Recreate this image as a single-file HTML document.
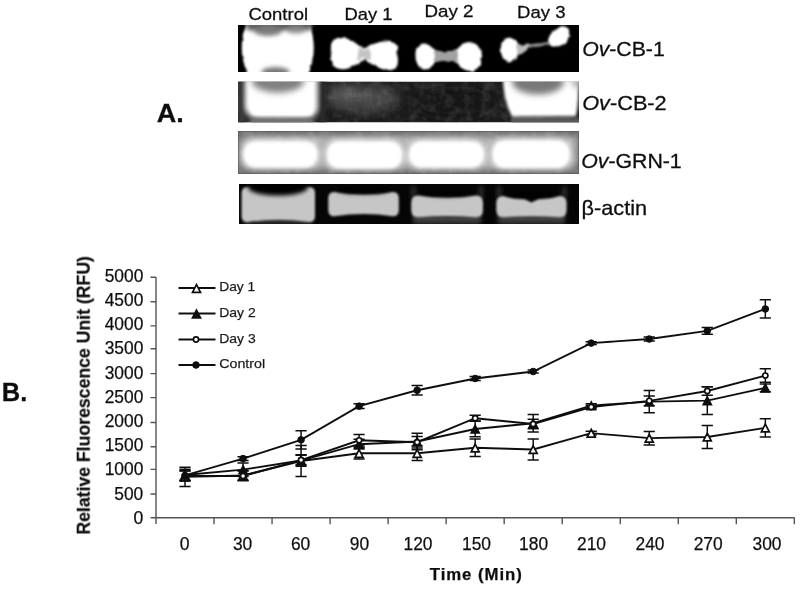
<!DOCTYPE html>
<html lang="en"><head><meta charset="utf-8"><title>Figure</title>
<style>
html,body{margin:0;padding:0;background:#fff;}
body{width:800px;height:591px;overflow:hidden;}
svg{display:block;}
text{font-family:"Liberation Sans",sans-serif;fill:#111;}
</style></head><body>
<svg width="800" height="591" viewBox="0 0 800 591">
<defs>
<filter id="b05" x="-20%" y="-20%" width="140%" height="140%"><feGaussianBlur stdDeviation="0.5"/></filter>
<filter id="b1" x="-20%" y="-20%" width="140%" height="140%"><feGaussianBlur stdDeviation="1"/></filter>
<filter id="b15" x="-20%" y="-20%" width="140%" height="140%"><feGaussianBlur stdDeviation="1.5"/></filter>
<filter id="b2" x="-30%" y="-30%" width="160%" height="160%"><feGaussianBlur stdDeviation="2"/></filter>
<filter id="b3" x="-30%" y="-30%" width="160%" height="160%"><feGaussianBlur stdDeviation="3"/></filter>
<filter id="b5" x="-40%" y="-40%" width="180%" height="180%"><feGaussianBlur stdDeviation="5"/></filter>
<filter id="rough" x="-10%" y="-10%" width="120%" height="120%"><feTurbulence type="fractalNoise" baseFrequency="0.16" numOctaves="2" seed="7" result="n"/><feDisplacementMap in="SourceGraphic" in2="n" scale="3.5" xChannelSelector="R" yChannelSelector="G"/><feGaussianBlur stdDeviation="1.15"/></filter>
<filter id="noise" x="0" y="0" width="100%" height="100%"><feTurbulence type="fractalNoise" baseFrequency="0.11" numOctaves="3" seed="3"/><feColorMatrix type="matrix" values="0 0 0 0 1  0 0 0 0 1  0 0 0 0 1  1.6 0 0 0 -0.62"/></filter>
<filter id="soft" x="-2%" y="-2%" width="104%" height="104%"><feGaussianBlur stdDeviation="0.45"/></filter>
<clipPath id="g1"><rect x="238" y="25" width="341" height="47"/></clipPath>
<clipPath id="g2"><rect x="238" y="81.5" width="341" height="41"/></clipPath>
<clipPath id="g3"><rect x="238" y="131" width="341" height="43"/></clipPath>
<clipPath id="g4"><rect x="239" y="184" width="340" height="40"/></clipPath>
</defs>
<rect x="0" y="0" width="800" height="591" fill="#fff"/>
<g id="gel1" clip-path="url(#g1)">
<rect x="238" y="25" width="341" height="47" fill="#000"/>
<g filter="url(#rough)">
<path d="M247 23 Q236 48 248 75 L308 75 Q319 48 309 23 Z" fill="#fff"/>
</g>
<g filter="url(#b2)">
<rect x="246" y="20" width="66" height="10.500" rx="4" fill="#5e5e5e"/>
<ellipse cx="268" cy="31" rx="14" ry="5" fill="#7c7c7c"/>
<ellipse cx="296" cy="30" rx="10" ry="3.500" fill="#8c8c8c"/>
<ellipse cx="275.500" cy="72.500" rx="14" ry="5.500" fill="#777"/>
</g>
<g filter="url(#rough)" fill="#fff">
<path d="M331 47 Q331 37 342 37.500 Q352 39 358 45 L364 48.500 L371 45 Q384 39 396 43.500 Q399.500 55 397 68 Q386 73 376 66 L364 60 L352 67 Q341 72 333.500 66 Q330 57 331 47 Z"/>
<path d="M359 47 L364 50 L370 47 L371 61 L364 58 L357 61 Z" fill="#c4c4c4"/>
<path d="M415.500 53 Q416 43 425 43.500 Q432 46 435 50 L446 53 L457 49 Q462 42 470 42 Q481.500 44 482 56 Q481.500 69 472 71 Q462 71 457 63 L446 60 L435 62 Q431 69.500 424 69.500 Q415 67 415.500 53 Z"/>
<path d="M434 50 L446 53 L458 49 L458 63 L446 60 L434 62 Z" fill="#a2a2a2"/>
<path d="M500.500 49 Q501 38 509 37.500 Q516 39 519 45 L524 47 L519 52 Q516 61 509 62.500 Q501 60 500.500 49 Z"/>
<path d="M548 40 Q550 32 557 29 Q561 25 566 26 Q570 28 569 36 Q567 45 558 47.500 Q549 47 548 40 Z"/>
<path d="M518 45.500 L549 42 L549 45 L518 50 Z" fill="#8e8e8e"/>
<path d="M517 44 L528 45 L528 49.500 L517 56 Z" fill="#bdbdbd"/>
</g>
</g>
<g id="gel2" clip-path="url(#g2)">
<rect x="238" y="81.500" width="341" height="41" fill="#1b1b1b"/>
<g filter="url(#b5)">
<ellipse cx="362" cy="98" rx="38" ry="14" fill="#444"/>
<ellipse cx="345" cy="92" rx="13" ry="8" fill="#555"/>
<ellipse cx="455" cy="104" rx="40" ry="14" fill="#131313"/>
</g>
<rect x="238" y="81.500" width="341" height="41" filter="url(#noise)" opacity="0.16"/>
<g filter="url(#b2)">
<rect x="237" y="80" width="9" height="44" fill="#3a3a3a"/>
<rect x="318" y="80" width="8" height="44" fill="#2c2c2c"/>
<path d="M246 76 L317 76 L317 106 Q317 119 304 119 L260 119 Q247 119 246 106 Z" fill="#fff"/>
</g>
<g filter="url(#b2)">
<rect x="250" y="118" width="64" height="8" fill="#777"/>
</g>
<g filter="url(#b3)">
<ellipse cx="278" cy="81.500" rx="26" ry="11" fill="#808080"/>
</g>
<g filter="url(#b15)">
<path d="M503 76 Q503 100 512 116.500 L576 116 Q579 100 578.500 76 Z" fill="#fff"/>
<rect x="511" y="118" width="70" height="6" fill="#5c5c5c"/>
</g>
<g filter="url(#b3)">
<ellipse cx="538" cy="81.500" rx="26" ry="13" fill="#787878"/>
<ellipse cx="577" cy="82" rx="5" ry="6" fill="#aaa"/>
</g>
</g>
<g id="gel3" clip-path="url(#g3)">
<rect x="238" y="131" width="341" height="43" fill="#6c6c6c"/>
<g filter="url(#b3)" fill="#b2b2b2">
<rect x="240" y="136" width="337" height="33" rx="8"/>
</g>
<rect x="238" y="131" width="341" height="43" filter="url(#noise)" opacity="0.18"/>
<g filter="url(#b3)" fill="#fff">
<rect x="243" y="140.500" width="75" height="27.500" rx="12"/>
<rect x="326.500" y="140.500" width="76" height="28.500" rx="12"/>
<rect x="408.500" y="140.500" width="76" height="27.500" rx="12"/>
<rect x="492" y="139.500" width="78" height="29" rx="12"/>
</g>
<g filter="url(#b15)" fill="#fff">
<rect x="244.500" y="142.500" width="72" height="24" rx="11"/>
<rect x="328" y="142.500" width="73" height="25" rx="11"/>
<rect x="410" y="142.500" width="73" height="24" rx="11"/>
<rect x="493.500" y="141.500" width="75" height="25.500" rx="11"/>
</g>
<rect x="238.500" y="131.500" width="340" height="42" fill="none" stroke="#555" stroke-width="1" opacity="0.55"/>
</g>
<g id="gel4" clip-path="url(#g4)">
<rect x="239" y="184" width="340" height="40" fill="#050505"/>
<g filter="url(#b2)" fill="#3c3c3c">
<rect x="413" y="214" width="68" height="10"/>
<rect x="498" y="214" width="67" height="10"/>
<rect x="244" y="216" width="68" height="9" fill="#2c2c2c"/>
<rect x="411.5" y="186" width="4" height="12" fill="#333"/>
<rect x="479" y="186" width="4" height="12" fill="#333"/>
<rect x="497" y="186" width="4" height="12" fill="#333"/>
<rect x="562.5" y="186" width="4" height="12" fill="#333"/>
</g>
<g filter="url(#b1)" fill="#c6c6c6">
<path d="M241.6 193 Q241.6 187 247.6 187 Q278.3 190.0 309 187 Q315 187 315 193 L315 216 Q315 222 309 222 Q278.3 217.4 247.6 222 Q241.6 222 241.6 216 Z"/>
<path d="M328.3 198 Q328.3 192 334.3 192 Q363.55 196.6 392.8 192 Q398.8 192 398.8 198 L398.8 210.3 Q398.8 216.3 392.8 216.3 Q363.55 211.70000000000002 334.3 216.3 Q328.3 216.3 328.3 210.3 Z"/>
<path d="M411.2 202.5 Q411.2 195.5 418.2 195.5 Q447.1 199.5 476 195.5 Q483 195.5 483 202.5 L483 210.3 Q483 217.3 476 217.3 Q447.1 214.9 418.2 217.3 Q411.2 217.3 411.2 210.3 Z"/>
<path d="M496.3 203 Q496.3 196 503.3 196 Q513.875 199.2 524.45 199.0 L531.45 202.5 L538.45 199.0 Q549.0250000000001 199.2 559.6 196 Q566.6 196 566.6 203 L566.6 210.2 Q566.6 217.2 559.6 217.2 Q531.45 215.39999999999998 503.3 217.2 Q496.3 217.2 496.3 210.2 Z"/>
</g>
<g filter="url(#b2)" fill="#000">
<ellipse cx="278" cy="187.5" rx="30" ry="8"/>
<ellipse cx="363.5" cy="190.5" rx="27" ry="3.5" opacity="0.8"/>
<ellipse cx="447" cy="193" rx="26" ry="3.5" opacity="0.8"/>
<ellipse cx="531" cy="193.5" rx="26" ry="4" opacity="0.8"/>
</g>
</g>
<g id="labelsA" filter="url(#soft)" stroke="#111" stroke-width="0.3">
<text x="248.5" y="19.5" font-size="17.4" textLength="59.5" lengthAdjust="spacingAndGlyphs">Control</text>
<text x="344.5" y="19.5" font-size="17.4" textLength="48" lengthAdjust="spacingAndGlyphs">Day 1</text>
<text x="424.5" y="17.2" font-size="17.4" textLength="49" lengthAdjust="spacingAndGlyphs">Day 2</text>
<text x="517" y="18.2" font-size="17.4" textLength="48.5" lengthAdjust="spacingAndGlyphs">Day 3</text>
<text x="582.2" y="55.5" font-size="19.8" textLength="82.5" lengthAdjust="spacingAndGlyphs"><tspan font-style="italic">Ov</tspan>-CB-1</text>
<text x="582.2" y="109.6" font-size="19.8" textLength="84.5" lengthAdjust="spacingAndGlyphs"><tspan font-style="italic">Ov</tspan>-CB-2</text>
<text x="581.2" y="167.6" font-size="19.8" textLength="100.5" lengthAdjust="spacingAndGlyphs"><tspan font-style="italic">Ov</tspan>-GRN-1</text>
<text x="581.6" y="214.6" font-size="19.8" textLength="65.5" lengthAdjust="spacingAndGlyphs">β-actin</text>
<text x="156.8" y="121.7" font-size="26.5" font-weight="bold" textLength="27" lengthAdjust="spacingAndGlyphs">A.</text>
<text x="1.8" y="400.6" font-size="26.5" font-weight="bold" textLength="25.5" lengthAdjust="spacingAndGlyphs">B.</text>
</g>
<g id="chart" filter="url(#soft)" stroke="#111" stroke-width="0.25">
<g stroke="#555" stroke-width="1.4" fill="none">
<path d="M156.0 277.2 V524 M150.6 517.8 H794.6"/>
<path d="M150.5 494.00 H156.0 M150.5 469.40 H156.0 M150.5 446.70 H156.0 M150.5 422.50 H156.0 M150.5 397.60 H156.0 M150.5 373.60 H156.0 M150.5 348.70 H156.0 M150.5 325.90 H156.0 M150.5 301.70 H156.0 M150.5 277.20 H156.0 M214.03 517.8 V524.3 M272.06 517.8 V524.3 M330.09 517.8 V524.3 M388.12 517.8 V524.3 M446.15 517.8 V524.3 M504.18 517.8 V524.3 M562.21 517.8 V524.3 M620.24 517.8 V524.3 M678.27 517.8 V524.3 M736.30 517.8 V524.3 M794.33 517.8 V524.3 "/>
</g>
<text x="133.5" y="523.8" font-size="18" textLength="9.8" lengthAdjust="spacingAndGlyphs">0</text>
<text x="114.3" y="499.5" font-size="18" textLength="29.0" lengthAdjust="spacingAndGlyphs">500</text>
<text x="104.7" y="475.3" font-size="18" textLength="38.6" lengthAdjust="spacingAndGlyphs">1000</text>
<text x="104.7" y="451.1" font-size="18" textLength="38.6" lengthAdjust="spacingAndGlyphs">1500</text>
<text x="104.7" y="426.9" font-size="18" textLength="38.6" lengthAdjust="spacingAndGlyphs">2000</text>
<text x="104.7" y="402.7" font-size="18" textLength="38.6" lengthAdjust="spacingAndGlyphs">2500</text>
<text x="104.7" y="378.5" font-size="18" textLength="38.6" lengthAdjust="spacingAndGlyphs">3000</text>
<text x="104.7" y="354.3" font-size="18" textLength="38.6" lengthAdjust="spacingAndGlyphs">3500</text>
<text x="104.7" y="330.1" font-size="18" textLength="38.6" lengthAdjust="spacingAndGlyphs">4000</text>
<text x="104.7" y="305.9" font-size="18" textLength="38.6" lengthAdjust="spacingAndGlyphs">4500</text>
<text x="104.7" y="281.7" font-size="18" textLength="38.6" lengthAdjust="spacingAndGlyphs">5000</text>
<text x="179.8" y="549.6" font-size="18" textLength="9.8" lengthAdjust="spacingAndGlyphs">0</text>
<text x="232.9" y="549.6" font-size="18" textLength="19.4" lengthAdjust="spacingAndGlyphs">30</text>
<text x="290.9" y="549.6" font-size="18" textLength="19.4" lengthAdjust="spacingAndGlyphs">60</text>
<text x="349.7" y="549.6" font-size="18" textLength="19.4" lengthAdjust="spacingAndGlyphs">90</text>
<text x="403.5" y="549.6" font-size="18" textLength="29.0" lengthAdjust="spacingAndGlyphs">120</text>
<text x="462.0" y="549.6" font-size="18" textLength="29.0" lengthAdjust="spacingAndGlyphs">150</text>
<text x="519.1" y="549.6" font-size="18" textLength="29.0" lengthAdjust="spacingAndGlyphs">180</text>
<text x="577.0" y="549.6" font-size="18" textLength="29.0" lengthAdjust="spacingAndGlyphs">210</text>
<text x="635.5" y="549.6" font-size="18" textLength="29.0" lengthAdjust="spacingAndGlyphs">240</text>
<text x="693.7" y="549.6" font-size="18" textLength="29.0" lengthAdjust="spacingAndGlyphs">270</text>
<text x="752.5" y="549.6" font-size="18" textLength="29.0" lengthAdjust="spacingAndGlyphs">300</text>
<text x="429.8" y="579.7" font-size="16.8" font-weight="bold" textLength="92" lengthAdjust="spacing">Time (Min)</text>
<text transform="translate(89.7 534.6) rotate(-90)" font-size="18" font-weight="bold" textLength="278.5" lengthAdjust="spacingAndGlyphs">Relative Fluorescence Unit (RFU)</text>
<g id="day1" stroke="#111" fill="none">
<polyline points="185.01,476.90 243.05,475.45 301.07,461.02 359.11,453.32 417.13,453.32 475.17,447.79 533.19,449.47 591.23,433.11 649.25,438.16 707.28,436.96 765.32,427.82" stroke-width="1.9"/>
<path d="M185.01 467.27 V486.52 M179.41 467.27 H190.61 M179.41 486.52 H190.61 M243.05 470.64 V480.27 M237.45 470.64 H248.65 M237.45 480.27 H248.65 M301.07 445.62 V476.42 M295.47 445.62 H306.68 M295.47 476.42 H306.68 M359.11 447.54 V459.09 M353.50 447.54 H364.71 M353.50 459.09 H364.71 M417.13 446.10 V460.54 M411.53 446.10 H422.74 M411.53 460.54 H422.74 M475.17 439.12 V456.45 M469.56 439.12 H480.77 M469.56 456.45 H480.77 M533.19 438.88 V460.06 M527.59 438.88 H538.79 M527.59 460.06 H538.79 M591.23 431.18 V435.03 M585.62 431.18 H596.83 M585.62 435.03 H596.83 M649.25 431.42 V444.90 M643.65 431.42 H654.86 M643.65 444.90 H654.86 M707.28 425.41 V448.51 M701.68 425.41 H712.88 M701.68 448.51 H712.88 M765.32 418.67 V436.96 M759.72 418.67 H770.92 M759.72 436.96 H770.92 " stroke-width="1.5"/>
<path d="M185.01 473.20 L189.01 480.90 L181.01 480.90 Z M243.05 471.75 L247.05 479.45 L239.05 479.45 Z M301.07 457.32 L305.07 465.02 L297.07 465.02 Z M359.11 449.62 L363.11 457.32 L355.11 457.32 Z M417.13 449.62 L421.13 457.32 L413.13 457.32 Z M475.17 444.09 L479.17 451.79 L471.17 451.79 Z M533.19 445.77 L537.19 453.47 L529.19 453.47 Z M591.23 429.41 L595.23 437.11 L587.23 437.11 Z M649.25 434.46 L653.25 442.16 L645.25 442.16 Z M707.28 433.26 L711.28 440.96 L703.28 440.96 Z M765.32 424.12 L769.32 431.82 L761.32 431.82 Z " fill="#fff" stroke-width="1.7"/>
</g>
<g id="day2" stroke="#111" fill="none">
<polyline points="185.01,474.97 243.05,469.68 301.07,460.54 359.11,444.18 417.13,441.53 475.17,429.02 533.19,423.24 591.23,405.68 649.25,401.59 707.28,400.63 765.32,387.88" stroke-width="1.9"/>
<path d="M185.01 469.20 V480.75 M179.41 469.20 H190.61 M179.41 480.75 H190.61 M243.05 462.94 V476.42 M237.45 462.94 H248.65 M237.45 476.42 H248.65 M301.07 454.76 V466.31 M295.47 454.76 H306.68 M295.47 466.31 H306.68 M359.11 439.36 V448.99 M353.50 439.36 H364.71 M353.50 448.99 H364.71 M417.13 433.35 V449.71 M411.53 433.35 H422.74 M411.53 449.71 H422.74 M475.17 421.32 V436.72 M469.56 421.32 H480.77 M469.56 436.72 H480.77 M533.19 414.58 V431.91 M527.59 414.58 H538.79 M527.59 431.91 H538.79 M591.23 403.76 V407.61 M585.62 403.76 H596.83 M585.62 407.61 H596.83 M649.25 390.52 V412.66 M643.65 390.52 H654.86 M643.65 412.66 H654.86 M707.28 386.67 V414.58 M701.68 386.67 H712.88 M701.68 414.58 H712.88 M765.32 384.03 V391.73 M759.72 384.03 H770.92 M759.72 391.73 H770.92 " stroke-width="1.5"/>
<path d="M185.01 471.27 L189.01 478.97 L181.01 478.97 Z M243.05 465.98 L247.05 473.68 L239.05 473.68 Z M301.07 456.84 L305.07 464.54 L297.07 464.54 Z M359.11 440.48 L363.11 448.18 L355.11 448.18 Z M417.13 437.83 L421.13 445.53 L413.13 445.53 Z M475.17 425.32 L479.17 433.02 L471.17 433.02 Z M533.19 419.54 L537.19 427.24 L529.19 427.24 Z M591.23 401.98 L595.23 409.68 L587.23 409.68 Z M649.25 397.89 L653.25 405.59 L645.25 405.59 Z M707.28 396.93 L711.28 404.63 L703.28 404.63 Z M765.32 384.18 L769.32 391.88 L761.32 391.88 Z " fill="#111" stroke-width="1.7"/>
</g>
<g id="day3" stroke="#111" fill="none">
<polyline points="185.01,475.94 243.05,475.94 301.07,460.06 359.11,440.33 417.13,442.25 475.17,418.19 533.19,423.97 591.23,407.12 649.25,400.87 707.28,391.00 765.32,375.61" stroke-width="1.9"/>
<path d="M185.01 471.12 V480.75 M179.41 471.12 H190.61 M179.41 480.75 H190.61 M243.05 471.12 V480.75 M237.45 471.12 H248.65 M237.45 480.75 H248.65 M301.07 455.24 V464.87 M295.47 455.24 H306.68 M295.47 464.87 H306.68 M359.11 434.55 V446.10 M353.50 434.55 H364.71 M353.50 446.10 H364.71 M417.13 436.48 V448.03 M411.53 436.48 H422.74 M411.53 448.03 H422.74 M475.17 415.30 V421.08 M469.56 415.30 H480.77 M469.56 421.08 H480.77 M533.19 419.15 V428.78 M527.59 419.15 H538.79 M527.59 428.78 H538.79 M591.23 405.20 V409.05 M585.62 405.20 H596.83 M585.62 409.05 H596.83 M649.25 396.06 V405.68 M643.65 396.06 H654.86 M643.65 405.68 H654.86 M707.28 386.67 V395.33 M701.68 386.67 H712.88 M701.68 395.33 H712.88 M765.32 368.87 V382.34 M759.72 368.87 H770.92 M759.72 382.34 H770.92 " stroke-width="1.5"/>
<circle cx="185.01" cy="475.94" r="2.6" fill="#fff" stroke-width="1.7"/>
<circle cx="243.05" cy="475.94" r="2.6" fill="#fff" stroke-width="1.7"/>
<circle cx="301.07" cy="460.06" r="2.6" fill="#fff" stroke-width="1.7"/>
<circle cx="359.11" cy="440.33" r="2.6" fill="#fff" stroke-width="1.7"/>
<circle cx="417.13" cy="442.25" r="2.6" fill="#fff" stroke-width="1.7"/>
<circle cx="475.17" cy="418.19" r="2.6" fill="#fff" stroke-width="1.7"/>
<circle cx="533.19" cy="423.97" r="2.6" fill="#fff" stroke-width="1.7"/>
<circle cx="591.23" cy="407.12" r="2.6" fill="#fff" stroke-width="1.7"/>
<circle cx="649.25" cy="400.87" r="2.6" fill="#fff" stroke-width="1.7"/>
<circle cx="707.28" cy="391.00" r="2.6" fill="#fff" stroke-width="1.7"/>
<circle cx="765.32" cy="375.61" r="2.6" fill="#fff" stroke-width="1.7"/>
</g>
<g id="control" stroke="#111" fill="none">
<polyline points="185.01,475.45 243.05,458.61 301.07,439.85 359.11,406.16 417.13,390.28 475.17,378.49 533.19,371.52 591.23,343.12 649.25,339.03 707.28,330.85 765.32,308.96" stroke-width="1.9"/>
<path d="M185.01 470.64 V480.27 M179.41 470.64 H190.61 M179.41 480.27 H190.61 M243.05 456.69 V460.54 M237.45 456.69 H248.65 M237.45 460.54 H248.65 M301.07 430.70 V448.99 M295.47 430.70 H306.68 M295.47 448.99 H306.68 M359.11 403.76 V408.57 M353.50 403.76 H364.71 M353.50 408.57 H364.71 M417.13 385.47 V395.09 M411.53 385.47 H422.74 M411.53 395.09 H422.74 M475.17 376.57 V380.42 M469.56 376.57 H480.77 M469.56 380.42 H480.77 M533.19 370.07 V372.96 M527.59 370.07 H538.79 M527.59 372.96 H538.79 M591.23 341.68 V344.57 M585.62 341.68 H596.83 M585.62 344.57 H596.83 M649.25 337.11 V340.96 M643.65 337.11 H654.86 M643.65 340.96 H654.86 M707.28 327.49 V334.22 M701.68 327.49 H712.88 M701.68 334.22 H712.88 M765.32 299.82 V318.10 M759.72 299.82 H770.92 M759.72 318.10 H770.92 " stroke-width="1.5"/>
<circle cx="185.01" cy="475.45" r="3.3" fill="#111" stroke-width="1"/>
<circle cx="243.05" cy="458.61" r="3.3" fill="#111" stroke-width="1"/>
<circle cx="301.07" cy="439.85" r="3.3" fill="#111" stroke-width="1"/>
<circle cx="359.11" cy="406.16" r="3.3" fill="#111" stroke-width="1"/>
<circle cx="417.13" cy="390.28" r="3.3" fill="#111" stroke-width="1"/>
<circle cx="475.17" cy="378.49" r="3.3" fill="#111" stroke-width="1"/>
<circle cx="533.19" cy="371.52" r="3.3" fill="#111" stroke-width="1"/>
<circle cx="591.23" cy="343.12" r="3.3" fill="#111" stroke-width="1"/>
<circle cx="649.25" cy="339.03" r="3.3" fill="#111" stroke-width="1"/>
<circle cx="707.28" cy="330.85" r="3.3" fill="#111" stroke-width="1"/>
<circle cx="765.32" cy="308.96" r="3.3" fill="#111" stroke-width="1"/>
</g>
<g id="legend" stroke="#111" fill="none" stroke-width="1.8">
<path d="M178.5 288 H215.5"/>
<path d="M178.5 313.5 H215.5"/>
<path d="M178.5 339.5 H215.5"/>
<path d="M178.5 365 H215.5"/>
<path d="M196.50 284.60 L200.50 292.30 L192.50 292.30 Z " fill="#fff" stroke-width="1.7"/>
<path d="M196.50 310.10 L200.50 317.80 L192.50 317.80 Z " fill="#111" stroke-width="1.7"/>
<circle cx="196" cy="339.5" r="2.6" fill="#fff" stroke-width="1.7"/>
<circle cx="196" cy="365" r="3.3" fill="#111" stroke-width="1"/>
</g>
<text x="219.2" y="291.3" font-size="13.6" textLength="36" lengthAdjust="spacingAndGlyphs" fill="#3a3a3a" stroke="#3a3a3a" stroke-width="0.25">Day 1</text>
<text x="219.2" y="316.8" font-size="13.6" textLength="36.5" lengthAdjust="spacingAndGlyphs" fill="#3a3a3a" stroke="#3a3a3a" stroke-width="0.25">Day 2</text>
<text x="219.2" y="342.8" font-size="13.6" textLength="36.5" lengthAdjust="spacingAndGlyphs" fill="#3a3a3a" stroke="#3a3a3a" stroke-width="0.25">Day 3</text>
<text x="219.2" y="368.3" font-size="13.6" textLength="46" lengthAdjust="spacingAndGlyphs" fill="#3a3a3a" stroke="#3a3a3a" stroke-width="0.25">Control</text>
</g>
</svg>
</body></html>
